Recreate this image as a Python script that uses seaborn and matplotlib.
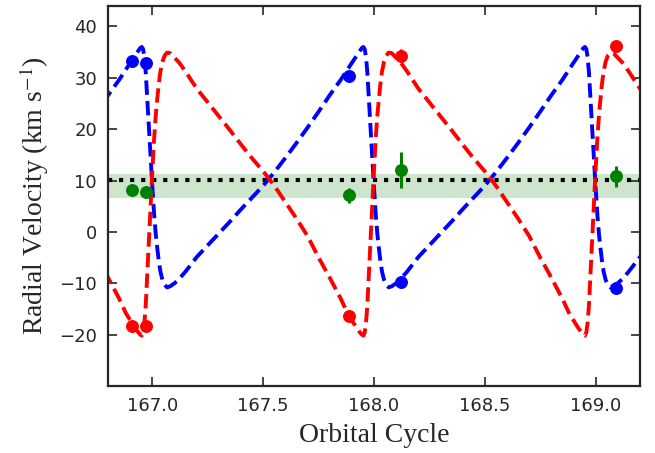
import numpy as np
import pandas as pd
import matplotlib
matplotlib.use("Agg")
import matplotlib.pyplot as plt
import seaborn as sns

# ---- model curves (one orbital cycle, phase relative to integer cycle) ----
blue_phase = [-0.50, -0.45, -0.40, -0.35, -0.30, -0.25, -0.20, -0.15, -0.12, -0.10,
              -0.08, -0.065, -0.055, -0.048, -0.042, -0.036, -0.030, -0.024, -0.016, -0.008,
              0.000, 0.008, 0.015, 0.022, 0.029, 0.036, 0.045, 0.055, 0.066, 0.08,
              0.10, 0.12, 0.15, 0.20, 0.25, 0.30, 0.35, 0.40, 0.45]
blue_rv = [9.0, 11.6, 14.4, 17.3, 20.3, 23.4, 26.6, 29.6, 31.6, 32.9,
           34.2, 35.2, 35.8, 36.0, 35.6, 34.0, 31.0, 26.5, 20.5, 14.5,
           8.6, 3.3, -0.4, -3.2, -5.7, -7.7, -9.3, -10.3, -10.8, -10.6,
           -10.0, -9.2, -7.7, -4.9, -2.6, -0.3, 2.0, 4.4, 6.7]

red_phase = [-0.50, -0.45, -0.40, -0.35, -0.30, -0.25, -0.20, -0.15, -0.12, -0.10,
             -0.08, -0.065, -0.055, -0.048, -0.042, -0.036, -0.030, -0.024, -0.016, -0.008,
             0.000, 0.008, 0.015, 0.022, 0.029, 0.036, 0.045, 0.055, 0.066, 0.08,
             0.10, 0.12, 0.15, 0.20, 0.25, 0.30, 0.35, 0.40, 0.45]
red_rv = [11.8, 9.0, 5.8, 2.6, -0.8, -5.0, -8.9, -13.0, -15.8, -17.2,
          -18.6, -19.5, -20.0, -20.2, -19.6, -17.7, -14.2, -8.9, -1.9, 5.2,
          12.1, 18.3, 22.6, 25.9, 28.9, 31.2, 33.1, 34.3, 34.9, 34.8,
          33.9, 33.0, 31.2, 27.9, 25.2, 22.5, 19.8, 17.0, 14.3]

cycles = [166, 167, 168, 169]

# ---- observations ----
obs_cycle = [166.91, 166.97, 167.885, 168.12, 169.09]
blue_obs = [33.2, 32.9, 30.3, -9.7, -11.0]
blue_err = [0.7, 0.8, 0.5, 0.5, 0.5]
red_obs = [-18.3, -18.3, -16.4, 34.3, 36.1]
red_err = [0.6, 0.8, 0.8, 1.3, 0.5]
green_obs = [8.1, 7.7, 7.1, 12.1, 10.8]
green_err = [0.3, 0.3, 1.4, 3.5, 2.0]

gamma_line = 10.1
band_low, band_high = 6.5, 11.2

x_ticks = [167.0, 167.5, 168.0, 168.5, 169.0]
y_ticks = [-20, -10, 0, 10, 20, 30, 40]


def tile(phase, rv):
    xs, ys = [], []
    for c in cycles:
        for p, v in zip(phase, rv):
            xs.append(c + p)
            ys.append(v)
    xs.append(cycles[-1] + 0.5)
    ys.append(rv[0])
    return pd.DataFrame({"cycle": xs, "rv": ys})


blue_df = tile(blue_phase, blue_rv)
red_df = tile(red_phase, red_rv)

sns.set_style("ticks")
plt.rcParams["font.family"] = ["DejaVu Sans"]
plt.rcParams["mathtext.fontset"] = "stix"

fig, ax = plt.subplots(figsize=(6.55, 4.53), dpi=100)
fig.subplots_adjust(left=0.165, right=0.977, bottom=0.148, top=0.987)

ax.axhspan(band_low, band_high, color="green", alpha=0.2, lw=0, zorder=0)
ax.axhline(gamma_line, color="black", ls=":", lw=3, zorder=1)

sns.lineplot(data=blue_df, x="cycle", y="rv", color="blue", linestyle="--", lw=2.8,
             sort=False, estimator=None, ax=ax, zorder=2)
sns.lineplot(data=red_df, x="cycle", y="rv", color="red", linestyle="--", lw=2.8,
             sort=False, estimator=None, ax=ax, zorder=2)

for vals, errs, col in [(blue_obs, blue_err, "blue"), (red_obs, red_err, "red"),
                        (green_obs, green_err, "green")]:
    ax.errorbar(obs_cycle, vals, yerr=errs, fmt="o", color=col, ms=8.3,
                elinewidth=2.2, capsize=0, zorder=3)

ax.set_xlim(166.8, 169.2)
ax.set_ylim(-30, 44)
ax.set_xticks(x_ticks)
ax.set_yticks(y_ticks)
ax.set_xticklabels([f"{t:.1f}" for t in x_ticks])

ax.tick_params(direction="in", top=True, right=True, length=6.5, width=1.2,
               labelsize=13, pad=8)
for s in ax.spines.values():
    s.set_linewidth(1.6)

ax.set_xlabel("Orbital Cycle", family="Liberation Serif", fontsize=20, labelpad=6)
ax.set_ylabel("Radial Velocity (km s$^{-1}$)", family="Liberation Serif", fontsize=20,
              labelpad=6)

fig.savefig("out.png", dpi=100)
